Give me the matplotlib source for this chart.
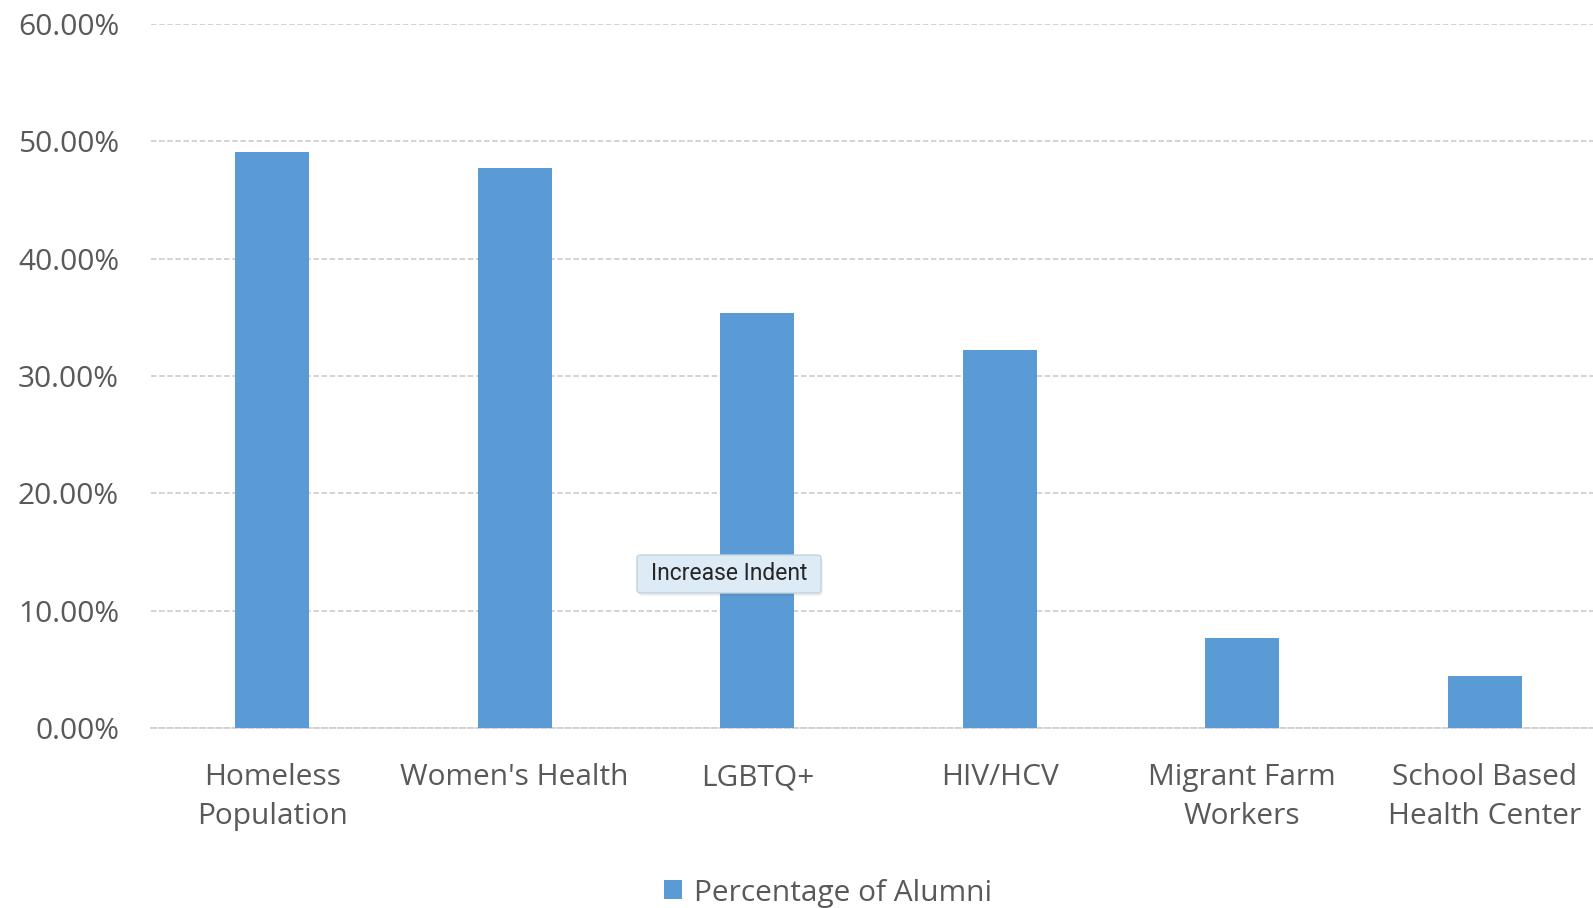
import matplotlib
matplotlib.use("Agg")
import matplotlib.pyplot as plt
from matplotlib.patches import Patch, FancyBboxPatch
from matplotlib.ticker import FuncFormatter, MultipleLocator

# Share of alumni working with each population
categories = ["Homeless\nPopulation", "Women's Health", "LGBTQ+", "HIV/HCV",
              "Migrant Farm\nWorkers", "School Based\nHealth Center"]
percent_alumni = [49.1, 47.7, 35.4, 32.2, 7.7, 4.4]
series_name = "Percentage of Alumni"

BAR = "#5b9bd5"
TXT = "#595959"
GRID = "#d0d0d0"
FONT = ["Open Sans", "DejaVu Sans"]
FS = 21.5

plt.rcParams["font.family"] = FONT

fig = plt.figure(figsize=(15.93, 9.08), dpi=100)
# plot area runs slightly past the right edge of the canvas
ax = fig.add_axes([151 / 1593, 1 - 728 / 908, (1606 - 151) / 1593, (728 - 24) / 908])

x = range(len(categories))
ax.bar(x, percent_alumni, width=0.305, color=BAR, zorder=3)

ax.set_xlim(-0.5, len(categories) - 0.5)
ax.set_ylim(0, 60)
ax.yaxis.set_major_locator(MultipleLocator(10))
ax.yaxis.set_major_formatter(FuncFormatter(lambda v, _: f"{v:.2f}%"))
ax.grid(axis="y", color=GRID, linestyle=(0, (3, 1.5)), linewidth=1.3, zorder=0)
ax.set_axisbelow(True)

for s in ("top", "right", "left"):
    ax.spines[s].set_visible(False)
ax.spines["bottom"].set_color(GRID)
ax.spines["bottom"].set_linestyle((0, (3, 1.5)))
ax.spines["bottom"].set_linewidth(1.3)

ax.set_xticks(list(x))
ax.set_xticklabels(categories, fontsize=FS, color=TXT, linespacing=1.45)
ax.tick_params(axis="x", length=0, pad=25.5)
ax.tick_params(axis="y", length=0, pad=23, labelsize=FS, labelcolor=TXT)

# legend at the bottom
fig.legend(handles=[Patch(facecolor=BAR, label=series_name)], loc="center",
           bbox_to_anchor=(828 / 1593, 1 - 893 / 908), frameon=False,
           fontsize=FS, labelcolor=TXT, handlelength=0.6, handleheight=0.6,
           handletextpad=0.4, borderaxespad=0)

# hover tooltip
tip_x0, tip_y0, tip_w, tip_h = 637 / 1593, 1 - 593 / 908, 184 / 1593, 38 / 908
shadow = FancyBboxPatch((tip_x0 + 0.001, tip_y0 - 0.003), tip_w, tip_h,
                        boxstyle="round,pad=0,rounding_size=0.003",
                        transform=fig.transFigure, facecolor="#000000",
                        alpha=0.07, edgecolor="none", zorder=9)
box = FancyBboxPatch((tip_x0, tip_y0), tip_w, tip_h,
                     boxstyle="round,pad=0,rounding_size=0.003",
                     transform=fig.transFigure, facecolor="#dcebf6",
                     edgecolor="#c4d2dc", linewidth=1, zorder=10)
fig.add_artist(shadow)
fig.add_artist(box)
fig.text(tip_x0 + tip_w / 2, tip_y0 + tip_h / 2, "Increase Indent",
         ha="center", va="center", fontsize=16.5, color="#262626",
         family=["Roboto", "DejaVu Sans"], zorder=11)

fig.savefig("out.png", dpi=100)
